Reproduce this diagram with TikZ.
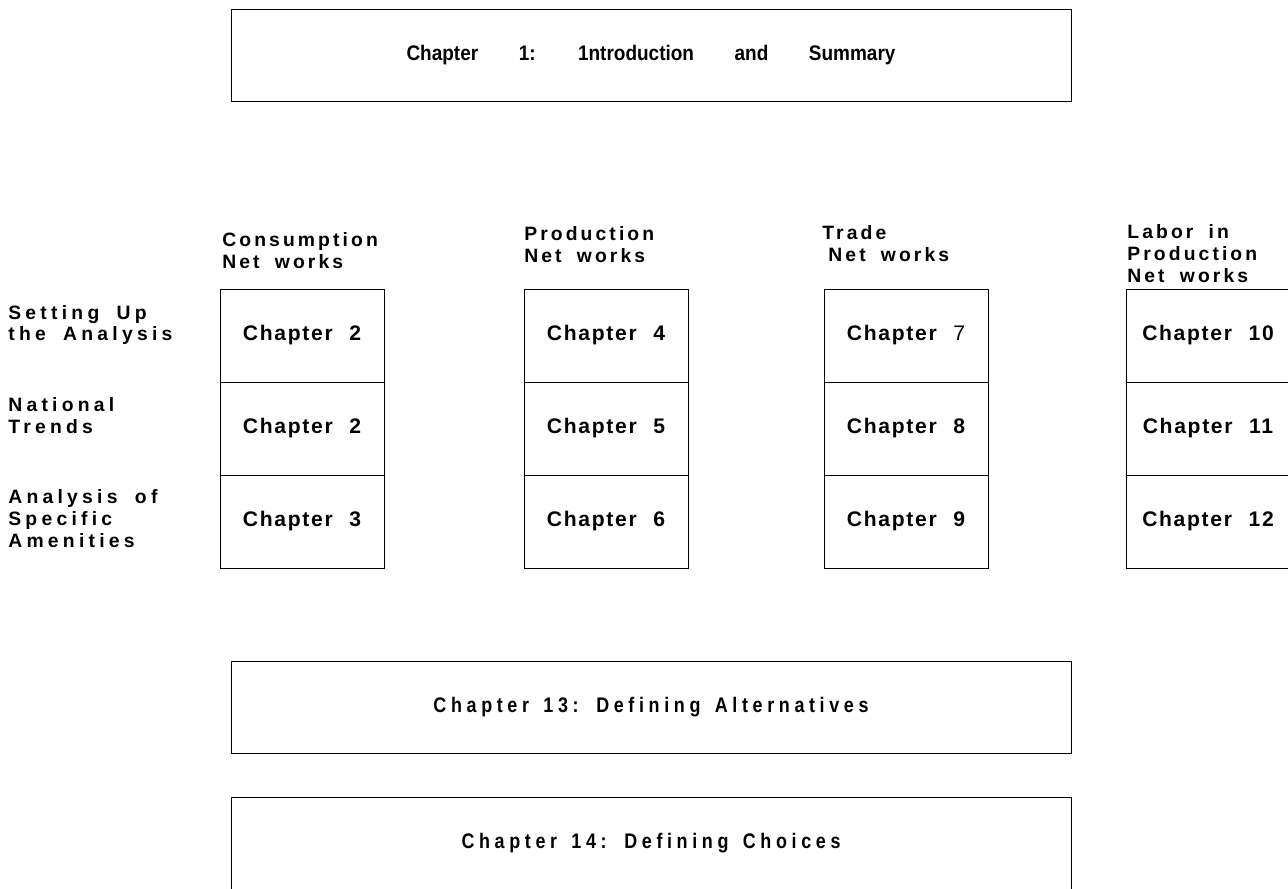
\documentclass[tikz,border=0pt]{standalone}
\usepackage{fontspec}
\setmainfont{Liberation Sans}
\newfontfamily\labfont[LetterSpace=16,WordSpace=1.8]{Liberation Sans}
\newfontfamily\rowfont[LetterSpace=22,WordSpace=1.8]{Liberation Sans}
\newfontfamily\cellfont[LetterSpace=8,WordSpace=2.2]{Liberation Sans}
\newfontfamily\topfont[FakeStretch=0.9,WordSpace=7.7]{Liberation Sans}
\newfontfamily\widefont[FakeStretch=0.85,LetterSpace=22,WordSpace=1.5]{Liberation Sans}
\usetikzlibrary{positioning}

\begin{document}
\begin{tikzpicture}[
    % chapter cells of the four columns
    cell/.style={rectangle, draw, line width=0.5pt, minimum width=3.28cm, minimum height=1.86cm, inner sep=0pt, outer sep=0pt, font=\cellfont\bfseries\fontsize{12}{14}\selectfont},
    % wide boxes
    bigbox/.style={rectangle, draw, line width=0.5pt, minimum width=16.8cm, minimum height=1.84cm, inner sep=0pt, outer sep=0pt},
    % column headings
    head/.style={anchor=west, align=left, inner sep=0pt, font=\labfont\bfseries\fontsize{11}{12.5}\selectfont},
    % row labels on the left
    rowlab/.style={head, font=\rowfont\bfseries\fontsize{11}{12.5}\selectfont}
]
\useasboundingbox (0,0) rectangle (25.76,-17.76);

% 1. top box
\node [bigbox, font=\topfont\bfseries\fontsize{12}{14}\selectfont] (intro) at (13.02,-1.1) {Chapter 1: 1ntroduction and Summary};

% 2. column headings
\node [head] (hcons) at (4.44,-5.02) {Consumption\\Net works};
\node [head] (hprod) at (10.48,-4.89) {Production\\Net works};
\node [head] (htrade) at (16.44,-4.87) {Trade\\\hspace{0.12cm}Net works};
\node [head] (hlabor) at (22.54,-5.08) {Labor in\\Production\\Net works};

% 3. row labels
\node [rowlab] (rsetup) at (0.16,-6.5) {Setting Up\\the Analysis};
\node [rowlab] (rtrends) at (0.16,-8.32) {National\\Trends};
\node [rowlab] (rspec) at (0.16,-10.38) {Analysis of\\Specific\\Amenities};

% 4. chapter cells, one column at a time
\node [cell] (cons1) at (6.04,-6.71) {Chapter 2};
\node [cell, below=0pt of cons1] (cons2) {Chapter 2};
\node [cell, below=0pt of cons2] (cons3) {Chapter 3};

\node [cell] (prod1) at (12.12,-6.71) {Chapter 4};
\node [cell, below=0pt of prod1] (prod2) {Chapter 5};
\node [cell, below=0pt of prod2] (prod3) {Chapter 6};

\node [cell] (trade1) at (18.12,-6.71) {Chapter {\mdseries 7}};
\node [cell, below=0pt of trade1] (trade2) {Chapter 8};
\node [cell, below=0pt of trade2] (trade3) {Chapter 9};

\node [cell] (labor1) at (24.16,-6.71) {Chapter 10};
\node [cell, below=0pt of labor1] (labor2) {Chapter 11};
\node [cell, below=0pt of labor2] (labor3) {Chapter 12};

% 5. lower boxes
\node [bigbox, font=\widefont\bfseries\fontsize{12}{14}\selectfont] (altern) at (13.02,-14.15) {Chapter 13: Defining Alternatives};
\node [bigbox, draw=none, minimum height=1.83cm, font=\widefont\bfseries\fontsize{12}{14}\selectfont] (choice) at (13.02,-16.855) {Chapter 14: Defining Choices};
% the last box runs off the page, so no bottom line
\draw [line width=0.5pt] (choice.south west) |- (choice.north east) -- (choice.south east);

\end{tikzpicture}
\end{document}
